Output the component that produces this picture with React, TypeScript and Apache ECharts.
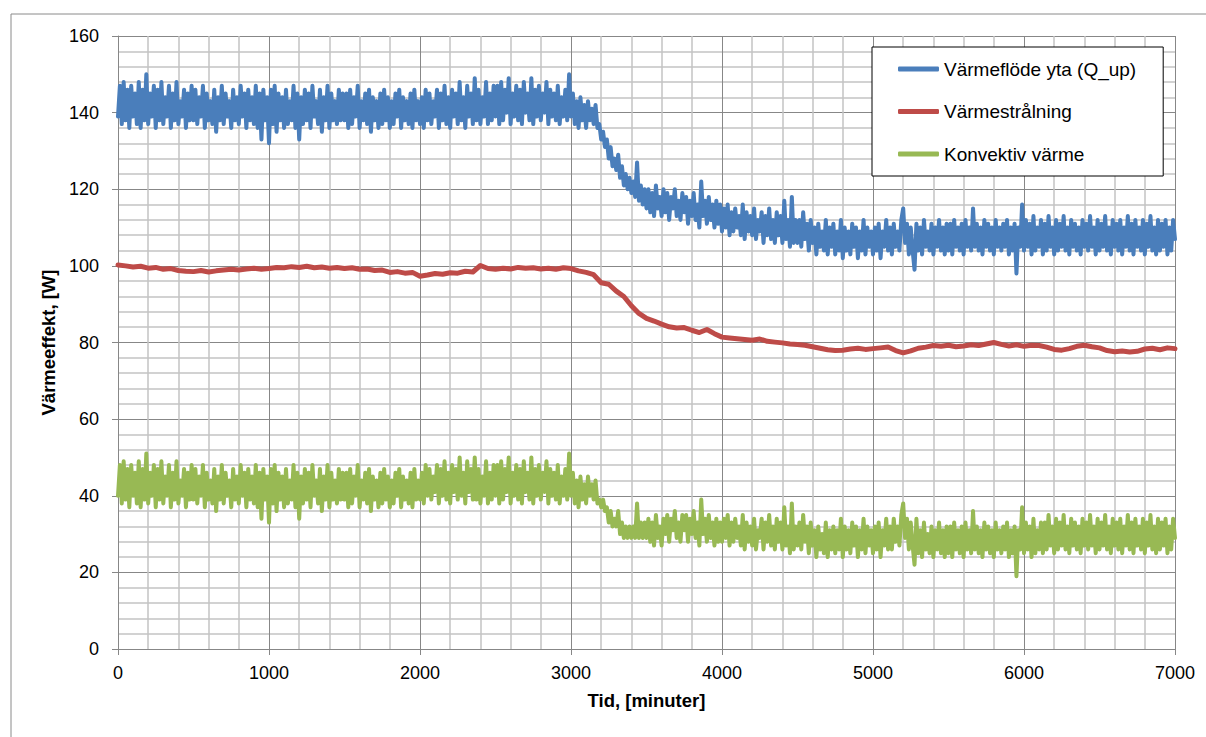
import React, { useEffect, useRef } from "react";
import * as echarts from "echarts";

// Time step (minutes) between samples
const STEP_FAST = 12.5;
const STEP_SLOW = 50;

const seriesNames = ["Värmeflöde yta (Q_up)", "Värmestrålning", "Konvektiv värme"];
const xTitle = "Tid, [minuter]";
const yTitle = "Värmeeffekt, [W]";

// Värmeflöde yta (Q_up), every 12.5 min from 0 to 7000 (one row = 500 min)
const blueFlow = [
  139,147,137,148,138,146,136,147,139,145,137,148,136,146,138,150,137,145,139,147,136,146,138,148,137,144,139,147,136,145,138,148,137,143,139,146,136,145,138,147,
  138,146,137,144,139,147,136,145,138,143,137,146,135,144,138,147,137,145,139,143,136,146,138,144,137,147,139,145,136,146,138,144,137,147,136,145,133,146,138,144,
  132,146,137,147,135,145,138,144,136,146,137,143,138,147,136,145,133,144,137,146,138,145,136,147,139,143,137,146,135,144,138,147,136,145,138,143,137,146,138,145,
  138,145,136,146,137,144,139,147,136,143,138,145,137,146,135,144,138,143,136,145,137,146,138,144,136,143,137,145,139,146,136,144,138,143,137,145,136,146,138,143,
  137,144,136,146,138,145,137,143,139,146,136,145,138,147,137,144,136,146,139,145,137,148,138,144,136,147,139,145,137,149,138,146,137,144,139,148,137,145,138,147,
  139,147,137,148,138,146,140,149,137,145,139,147,138,146,137,148,140,145,138,149,137,146,139,147,138,145,140,148,137,146,139,145,138,147,137,144,139,146,138,150,
  139,145,137,143,136,144,138,142,136,143,138,141,137,142,136,137,133,135,131,133,128,131,126,128,125,129,123,126,121,124,120,123,119,122,118,127,117,121,116,120,
  115,120,114,119,113,121,115,118,113,120,114,119,112,118,115,120,113,117,112,119,114,118,111,117,113,119,112,116,110,122,113,117,111,118,112,116,110,117,111,116,
  109,115,110,116,108,114,109,115,110,113,108,116,107,114,109,113,108,115,107,112,109,114,106,113,108,115,107,112,106,114,108,113,106,117,107,112,105,118,106,112,
  106,112,105,114,107,111,104,112,106,110,103,111,105,109,104,112,103,110,105,111,103,109,104,112,102,110,104,109,103,111,105,110,102,109,104,112,103,110,105,109,
  103,110,104,111,102,109,105,112,104,110,103,111,105,109,104,112,115,106,111,103,110,104,99,111,104,110,103,112,105,109,104,111,103,110,105,112,104,110,103,111,
  104,111,103,112,105,110,104,111,103,112,105,110,104,115,105,111,104,110,103,112,105,111,104,110,103,112,105,110,104,111,105,112,103,110,104,111,98,110,105,116,
  104,112,105,111,103,113,104,110,105,112,103,111,104,113,105,110,103,112,104,111,105,113,104,110,103,112,105,111,104,110,103,112,105,111,104,113,105,110,103,112,
  104,111,105,113,104,110,103,112,105,111,104,112,103,110,105,113,104,111,103,112,105,110,104,112,103,111,105,113,104,110,103,112,104,111,105,112,103,110,104,112,
  107,
];

// Värmestrålning, every 50 min from 0 to 7000
const redRadiation = [
  100.2,100,99.7,99.9,99.4,99.6,99.1,99.3,98.8,98.6,98.5,98.8,98.4,98.7,98.9,99.1,98.9,99.2,99.4,99.1,
  99.3,99.6,99.5,99.8,99.6,99.9,99.5,99.7,99.4,99.6,99.3,99.5,99.1,99.2,98.8,98.9,98.3,98.5,98.1,98.3,
  97.3,97.6,98,97.8,98.2,98.1,98.6,98.4,100.1,99.3,99.1,99.4,99.2,99.6,99.4,99.5,99.2,99.4,99.1,99.5,
  99.3,98.7,98.3,97.7,95.6,95.2,93.4,92,89.6,87.6,86.3,85.6,84.8,84.1,83.8,83.9,83.2,82.6,83.4,82.3,
  81.4,81.2,81,80.8,80.6,80.9,80.3,80.1,79.9,79.6,79.5,79.3,78.9,78.5,78.1,77.9,78,78.3,78.5,78.2,
  78.4,78.6,78.8,77.9,77.3,77.8,78.5,78.8,79.2,79,79.3,78.9,79.1,79.4,79.2,79.6,80,79.5,79.1,79.4,
  79,79.3,79.2,78.8,78.2,78,78.4,79,79.3,78.9,78.6,77.9,77.6,77.8,77.5,77.7,78.3,78.5,78.1,78.6,
  78.4,
];

// Konvektiv värme, every 12.5 min from 0 to 7000 (one row = 500 min)
const greenConvection = [
  40,48,38,49,39,47,37,48,40,46,38,49,37,47,39,51,38,46,40,48,37,47,39,49,38,45,40,48,37,46,39,49,38,44,40,47,37,46,39,48,
  39,47,38,45,40,48,37,46,39,44,38,47,36,45,39,48,38,46,40,44,37,47,39,45,38,48,40,46,37,47,39,45,38,48,37,46,34,47,39,45,
  33,47,38,48,36,46,39,45,37,47,38,44,39,48,37,46,34,45,38,47,39,46,37,48,40,44,38,47,36,45,39,48,37,46,39,44,38,47,39,46,
  39,46,37,47,38,45,40,48,37,44,39,46,38,47,36,45,39,44,37,46,38,47,39,45,37,44,38,46,40,47,37,45,39,44,38,46,37,47,39,44,
  39,46,38,48,40,47,39,45,41,48,38,47,40,49,39,46,38,48,41,47,39,50,40,46,38,49,41,47,39,50,39,47,38,45,40,49,38,46,39,48,
  40,48,38,49,39,47,41,50,38,46,40,48,39,47,38,49,41,46,39,50,38,47,40,48,39,46,41,49,38,47,40,46,39,48,38,45,40,47,39,51,
  40,46,38,44,37,45,39,43,38,45,40,43,39,44,38,39,37,39,36,37,33,36,32,34,32,36,30,33,29,32,29,32,29,32,29,38,29,33,29,33,
  29,34,28,33,27,35,29,32,27,34,30,35,28,34,31,36,29,33,28,35,31,35,28,34,30,36,29,33,27,39,30,34,28,35,29,33,27,34,28,33,
  28,34,29,35,27,33,28,34,29,32,27,35,26,33,28,32,27,34,26,31,29,34,26,33,28,35,27,32,26,34,28,33,26,37,27,32,25,38,26,32,
  27,33,26,35,28,32,25,33,27,31,24,32,26,30,25,33,24,31,26,32,25,31,26,34,24,32,26,31,25,33,27,32,24,31,26,34,25,32,27,31,
  25,32,26,33,24,31,27,34,26,32,26,34,28,32,27,35,38,29,34,26,33,27,22,34,25,31,24,33,26,30,25,32,24,31,26,33,25,31,24,32,
  25,32,24,33,26,31,25,32,24,33,26,31,25,36,26,32,25,31,24,33,26,32,25,31,24,33,26,31,25,32,26,33,24,31,25,32,19,31,26,37,
  25,33,26,32,24,34,25,31,26,33,25,33,26,35,27,32,25,34,26,33,27,35,26,32,25,34,27,33,26,32,25,34,27,33,26,35,27,32,25,34,
  26,33,27,35,26,32,25,34,27,33,26,34,25,32,27,35,26,33,25,34,27,32,26,34,25,33,27,35,26,32,25,34,26,33,27,34,25,32,26,34,
  29,
];

const colors = ["#4a7ebb", "#be4b48", "#98b954"];
const FONT = "'Liberation Sans', Arial, sans-serif";

const toPairs = (arr: number[], step: number) => arr.map((v, i) => [i * step, v]);

export default function App() {
  const ref = useRef<HTMLDivElement>(null);
  useEffect(() => {
    if (!ref.current) return;
    const chart = echarts.init(ref.current, undefined, { renderer: "svg" });
    const majorLine = "#878787";
    const minorLine = "#c3c3c3";
    chart.setOption({
      animation: false,
      backgroundColor: "#ffffff",
      textStyle: { fontFamily: FONT },
      graphic: [
        {
          type: "rect",
          shape: { x: 11, y: 14, width: 1400, height: 1000 },
          style: { fill: "none", stroke: "#8a8a8a", lineWidth: 1 },
          silent: true,
          z: -10,
        },
      ],
      grid: { left: 118, right: 31, top: 36, bottom: 88, containLabel: false },
      legend: {
        orient: "vertical",
        left: 872,
        top: 47,
        padding: [11, 27, 11, 26],
        itemGap: 20.5,
        itemWidth: 41,
        itemHeight: 5,
        icon: "roundRect",
        backgroundColor: "#ffffff",
        borderColor: "#000000",
        borderWidth: 1,
        borderRadius: 0,
        textStyle: { fontSize: 19, color: "#000", fontFamily: FONT, lineHeight: 22 },
        data: seriesNames,
      },
      xAxis: {
        type: "value",
        min: 0,
        max: 7000,
        interval: 1000,
        name: xTitle,
        nameLocation: "middle",
        nameGap: 42,
        nameTextStyle: { fontSize: 18.5, fontWeight: "bold", color: "#000", fontFamily: FONT },
        axisLine: { show: true, lineStyle: { color: majorLine, width: 1 } },
        axisTick: { show: true, length: 6, lineStyle: { color: majorLine } },
        axisLabel: { fontSize: 18, color: "#000", margin: 15, fontFamily: FONT, formatter: (v: number) => String(v) },
        splitLine: { show: true, lineStyle: { color: majorLine, width: 1 } },
        minorTick: { show: false, splitNumber: 5 },
        minorSplitLine: { show: true, lineStyle: { color: minorLine, width: 1.5 } },
      },
      yAxis: {
        type: "value",
        min: 0,
        max: 160,
        interval: 20,
        name: yTitle,
        nameLocation: "middle",
        nameGap: 55,
        nameRotate: 90,
        nameTextStyle: { fontSize: 18.5, fontWeight: "bold", color: "#000", fontFamily: FONT },
        axisLine: { show: true, lineStyle: { color: majorLine, width: 1 } },
        axisTick: { show: true, length: 6, lineStyle: { color: majorLine } },
        axisLabel: { fontSize: 18, color: "#000", margin: 19, fontFamily: FONT, formatter: (v: number) => String(v) },
        splitLine: { show: true, lineStyle: { color: majorLine, width: 1 } },
        minorTick: { show: false, splitNumber: 5 },
        minorSplitLine: { show: true, lineStyle: { color: minorLine, width: 1.5 } },
      },
      series: [
        {
          name: seriesNames[0],
          type: "line",
          data: toPairs(blueFlow, STEP_FAST),
          showSymbol: false,
          symbol: "none",
          sampling: undefined,
          color: colors[0],
          lineStyle: { width: 4, color: colors[0], join: "round", cap: "round" },
          z: 3,
        },
        {
          name: seriesNames[1],
          type: "line",
          data: toPairs(redRadiation, STEP_SLOW),
          showSymbol: false,
          symbol: "none",
          color: colors[1],
          lineStyle: { width: 5, color: colors[1], join: "round", cap: "round" },
          z: 3,
        },
        {
          name: seriesNames[2],
          type: "line",
          data: toPairs(greenConvection, STEP_FAST),
          showSymbol: false,
          symbol: "none",
          color: colors[2],
          lineStyle: { width: 4, color: colors[2], join: "round", cap: "round" },
          z: 3,
        },
      ],
    });
    return () => chart.dispose();
  }, []);
  return (
    <div
      ref={ref}
      style={{ position: "absolute", left: 0, top: 0, width: 1206, height: 737, background: "#fff" }}
    />
  );
}
